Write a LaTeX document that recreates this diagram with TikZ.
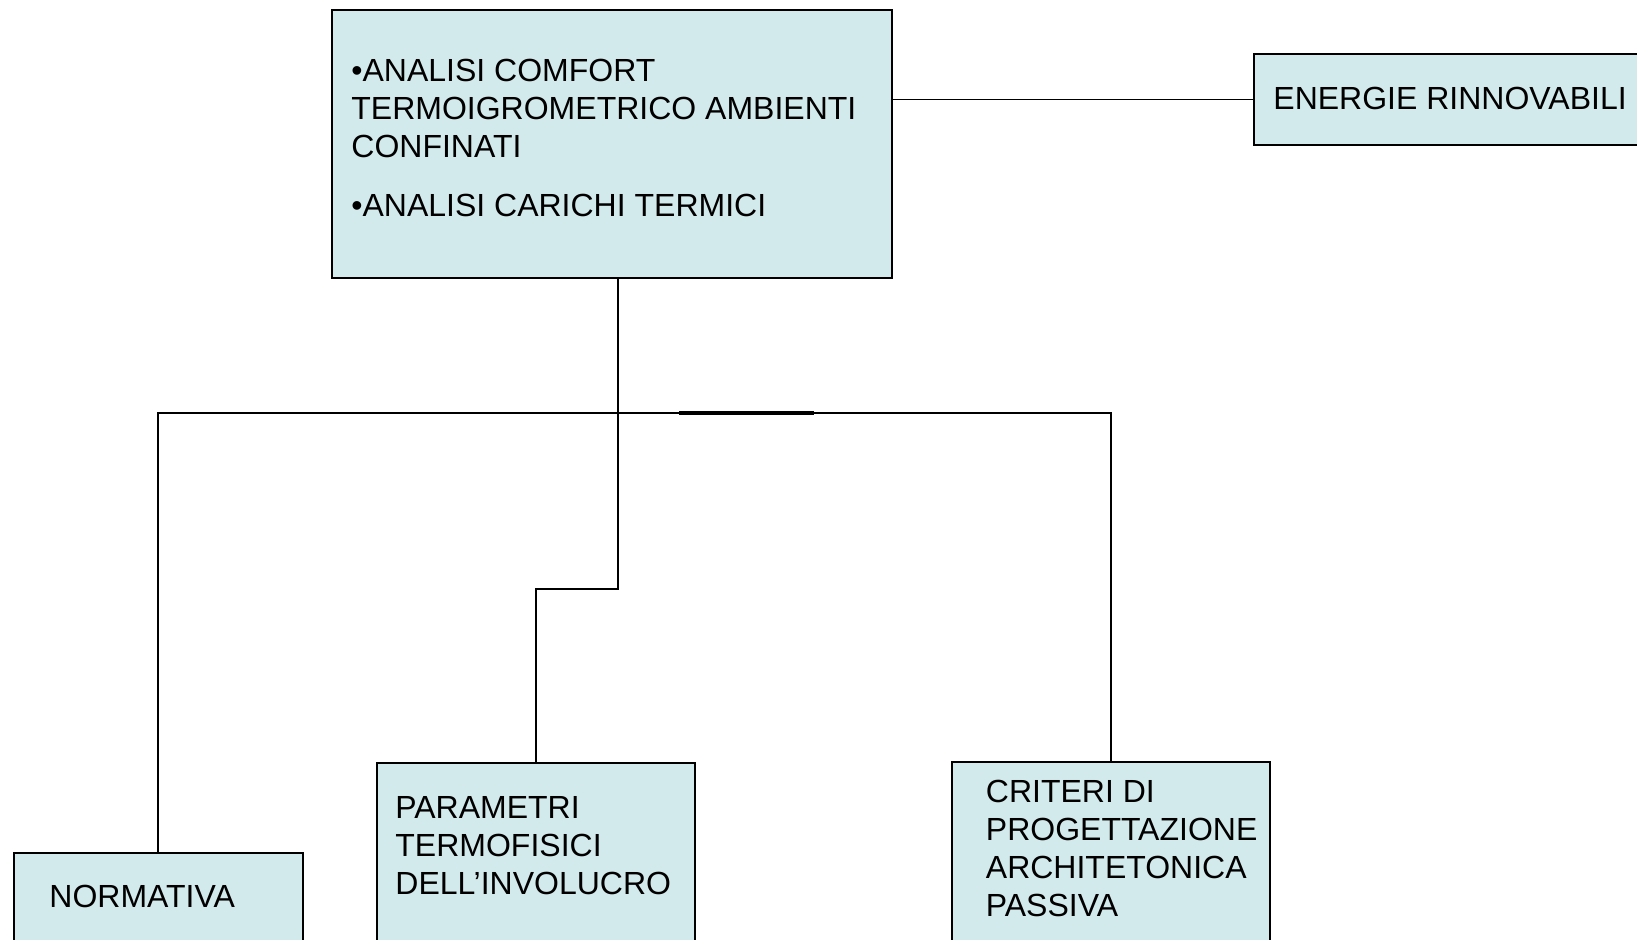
\documentclass[tikz,border=0pt]{standalone}
\usepackage{fontspec}
\setmainfont{Liberation Sans}
\usetikzlibrary{positioning}
\definecolor{boxfill}{RGB}{211,234,236}
\tikzset{
  box/.style={draw=black, fill=boxfill, line width=1pt, inner sep=0pt, anchor=north west},
  txt/.style={anchor=base west, align=left, inner sep=0pt, font=\fontsize{16}{19}\selectfont},
  wire/.style={draw=black, line width=0.8pt}
}
\begin{document}
\begin{tikzpicture}[x=0.5pt,y=-0.5pt]
\useasboundingbox (0,0) rectangle (1637,939);
\clip (0,0) rectangle (1637,939);
% boxes
\node[box, minimum width=279.75pt, minimum height=134pt] (analisi) at (331,8.5) {};
\node[box, minimum width=203.5pt, minimum height=45.35pt] (energie) at (1253,53.3) {};
\node[box, minimum width=144.25pt, minimum height=64pt] (norm) at (13,852.3) {};
\node[box, minimum width=158.75pt, minimum height=110pt] (param) at (376,761.5) {};
\node[box, minimum width=158.75pt, minimum height=110pt] (crit) at (951,761.3) {};
% texts (base = last line)
\node[txt] (analisiA) at (351,157.5) {•ANALISI COMFORT\\TERMOIGROMETRICO AMBIENTI\\CONFINATI};
\node[txt] (analisiB) at (351,216.5) {•ANALISI CARICHI TERMICI};
\node[txt] (energieT) at (1273,109.3) {ENERGIE RINNOVABILI};
\node[txt] (normT) at (49,907.7) {NORMATIVA};
\node[txt] (paramT) at (395,894.5) {PARAMETRI\\TERMOFISICI\\DELL’INVOLUCRO};
\node[txt] (critT) at (985.5,916) {CRITERI DI\\PROGETTAZIONE\\ARCHITETONICA\\PASSIVA};
% connectors
\coordinate (hub) at (618,413);
\coordinate (bend) at (618,589);
\coordinate (overA) at (679,413);
\coordinate (overB) at (814,413);
\draw[wire] (energie.west) -- (energie.west -| analisi.east);
\draw[wire] (hub |- analisi.south) -- (hub);
\draw[wire] (norm.north) |- (hub) -| (crit.north);
\draw[wire] (hub) -- (bend) -| (param.north);
\draw[wire, line width=1.7pt] (overA) -- (overB);
\end{tikzpicture}
\end{document}
